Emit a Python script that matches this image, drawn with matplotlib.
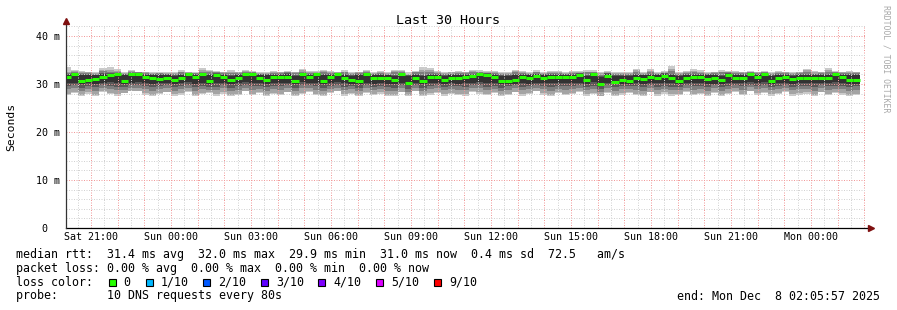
import numpy as np
import matplotlib
matplotlib.use("Agg")
import matplotlib.pyplot as plt
from matplotlib.patches import Rectangle

# ---------------- data ----------------
title = "Last 30 Hours"
ylabel = "Seconds"
watermark = "RRDTOOL / TOBI OETIKER"

# hours counted from Sat 00:00
x_tick_hours = [21, 24, 27, 30, 33, 36, 39, 42, 45, 48]
x_tick_labels = ["Sat 21:00", "Sun 00:00", "Sun 03:00", "Sun 06:00", "Sun 09:00",
                 "Sun 12:00", "Sun 15:00", "Sun 18:00", "Sun 21:00", "Mon 00:00"]
y_ticks = [0, 10, 20, 30, 40]
y_tick_labels = ["0  ", "10 m", "20 m", "30 m", "40 m"]

axis_start_hour = 20.0625          # left edge of the graph
axis_span_hours = 30.0
data_start_hour = 19 + 59 / 60     # first consolidated step
step_hours = 16 / 60               # 960 s consolidation step

# median rtt (ms) per step
median = [
    31.5, 32.0, 30.6, 30.9, 31.1, 31.5, 31.9, 32.0, 30.6, 32.0, 32.0, 31.5, 31.2, 31.1,
    31.3, 30.9, 31.3, 32.0, 31.5, 32.0, 30.6, 31.8, 31.5, 30.9, 31.3, 32.0, 32.0, 31.3,
    30.9, 31.5, 31.4, 31.5, 30.6, 32.0, 31.5, 32.0, 30.7, 31.5, 32.0, 31.3, 30.9, 30.6,
    32.0, 31.2, 31.3, 31.2, 30.9, 32.0, 30.2, 31.3, 30.6, 31.5, 31.5, 30.9, 31.2, 31.2,
    31.4, 31.6, 32.0, 31.8, 31.4, 30.6, 30.7, 30.9, 31.4, 31.2, 31.7, 31.2, 31.5, 31.5,
    31.5, 31.4, 31.8, 30.9, 32.0, 29.9, 31.7, 30.5, 30.9, 30.7, 31.3, 31.0, 31.5, 31.3,
    31.7, 31.3, 30.6, 31.3, 31.5, 31.5, 31.1, 31.2, 30.9, 31.8, 31.3, 31.3, 32.0, 31.4,
    32.0, 30.6, 31.3, 31.5, 31.0, 31.3, 31.3, 31.3, 31.3, 31.3, 32.0, 31.5, 30.9, 30.9,
]

# sorted ping values (ms) per step, smoke bands
ping1 = [
    27.7, 28.2, 27.6, 28.0, 27.5, 28.4, 27.9, 27.6, 28.1, 28.6, 28.5, 27.8, 27.6, 28.0,
    28.3, 27.6, 27.8, 28.4, 27.5, 27.9, 28.2, 27.6, 28.0, 27.6, 27.8, 28.5, 27.7, 28.1,
    27.6, 28.0, 27.7, 28.3, 27.5, 27.9, 28.4, 27.7, 27.6, 28.1, 28.5, 27.6, 27.9, 27.5,
    28.2, 27.7, 28.0, 27.6, 27.5, 28.3, 27.6, 28.6, 27.5, 27.8, 28.2, 27.6, 28.0, 27.7,
    27.6, 28.4, 28.0, 27.7, 28.1, 27.5, 27.7, 28.3, 27.6, 28.0, 28.5, 27.8, 27.6, 28.1,
    27.7, 28.0, 28.4, 27.6, 27.9, 27.5, 28.2, 27.6, 27.8, 28.1, 27.7, 27.5, 28.3, 27.6,
    28.0, 27.6, 27.8, 28.4, 27.7, 28.0, 27.6, 28.2, 27.5, 27.9, 28.3, 27.7, 28.5, 27.8,
    28.2, 27.6, 27.9, 28.4, 27.6, 27.8, 28.0, 27.6, 28.3, 27.7, 28.1, 27.8, 27.6, 27.7,
]
ping2 = [
    28.0, 28.4, 27.8, 28.3, 27.7, 28.5, 28.2, 27.9, 28.2, 28.6, 28.5, 28.1, 27.8, 28.2,
    28.4, 27.9, 28.1, 28.5, 27.8, 28.2, 28.3, 27.9, 28.3, 27.8, 28.0, 28.5, 28.0, 28.3,
    27.8, 28.2, 28.0, 28.4, 27.7, 28.2, 28.5, 28.0, 27.8, 28.3, 28.5, 27.9, 28.2, 27.7,
    28.4, 27.9, 28.3, 27.8, 27.7, 28.4, 27.7, 28.6, 27.7, 28.1, 28.4, 27.9, 28.2, 28.0,
    27.9, 28.5, 28.3, 27.9, 28.3, 27.7, 28.0, 28.4, 27.9, 28.2, 28.5, 28.1, 27.8, 28.3,
    28.0, 28.2, 28.5, 27.9, 28.2, 27.6, 28.4, 27.8, 28.1, 28.3, 28.0, 27.8, 28.4, 27.9,
    28.3, 27.9, 28.0, 28.5, 28.0, 28.2, 27.8, 28.4, 27.8, 28.2, 28.5, 28.0, 28.6, 28.1,
    28.4, 27.9, 28.2, 28.5, 27.9, 28.1, 28.3, 27.8, 28.4, 28.0, 28.3, 28.1, 27.8, 28.0,
]
ping3 = [
    28.9, 29.1, 28.5, 29.0, 28.6, 29.2, 29.0, 28.7, 28.8, 29.2, 29.1, 28.9, 28.6, 28.9,
    29.1, 28.6, 28.9, 29.2, 28.6, 29.0, 28.8, 28.7, 29.1, 28.5, 28.8, 29.2, 28.8, 29.0,
    28.6, 29.0, 28.8, 29.1, 28.5, 29.1, 29.2, 28.8, 28.6, 29.0, 29.2, 28.7, 28.9, 28.5,
    29.1, 28.7, 29.0, 28.6, 28.5, 29.1, 28.4, 29.2, 28.5, 28.9, 29.1, 28.7, 29.0, 28.8,
    28.7, 29.2, 29.1, 28.7, 29.0, 28.5, 28.8, 29.1, 28.7, 29.0, 29.2, 28.9, 28.6, 29.0,
    28.8, 29.0, 29.2, 28.7, 29.0, 28.3, 29.1, 28.6, 28.9, 29.0, 28.8, 28.6, 29.1, 28.7,
    29.0, 28.7, 28.8, 29.2, 28.8, 29.0, 28.6, 29.1, 28.6, 29.0, 29.2, 28.8, 29.3, 28.9,
    29.1, 28.7, 29.0, 29.2, 28.7, 28.9, 29.0, 28.6, 29.1, 28.8, 29.0, 28.9, 28.6, 28.8,
]
ping4 = [
    29.5, 29.7, 29.2, 29.6, 29.3, 29.8, 29.6, 29.4, 29.4, 29.8, 29.7, 29.5, 29.3, 29.5,
    29.7, 29.3, 29.5, 29.8, 29.3, 29.6, 29.3, 29.4, 29.7, 29.2, 29.5, 29.8, 29.5, 29.6,
    29.3, 29.6, 29.5, 29.7, 29.2, 29.7, 29.8, 29.5, 29.2, 29.6, 29.8, 29.4, 29.5, 29.2,
    29.7, 29.4, 29.6, 29.3, 29.2, 29.7, 29.0, 29.8, 29.2, 29.5, 29.7, 29.4, 29.6, 29.5,
    29.4, 29.8, 29.7, 29.4, 29.6, 29.2, 29.5, 29.7, 29.4, 29.6, 29.8, 29.5, 29.3, 29.6,
    29.5, 29.6, 29.8, 29.4, 29.6, 28.9, 29.7, 29.3, 29.5, 29.6, 29.5, 29.3, 29.7, 29.4,
    29.6, 29.4, 29.4, 29.8, 29.5, 29.6, 29.3, 29.7, 29.3, 29.6, 29.8, 29.5, 29.8, 29.5,
    29.7, 29.4, 29.6, 29.8, 29.4, 29.5, 29.6, 29.3, 29.7, 29.5, 29.6, 29.6, 29.3, 29.5,
]
ping5 = [
    30.2, 30.3, 30.1, 30.2, 30.1, 30.3, 30.4, 30.2, 30.0, 30.3, 30.4, 30.2, 30.1, 30.2,
    30.2, 30.1, 30.2, 30.4, 30.1, 30.3, 30.0, 30.3, 30.2, 30.1, 30.2, 30.4, 30.3, 30.2,
    30.1, 30.2, 30.2, 30.3, 30.0, 30.4, 30.2, 30.3, 30.1, 30.2, 30.4, 30.2, 30.1, 30.0,
    30.3, 30.1, 30.2, 30.1, 30.1, 30.3, 29.7, 30.2, 30.0, 30.2, 30.3, 30.1, 30.2, 30.1,
    30.2, 30.3, 30.4, 30.3, 30.2, 30.0, 30.1, 30.1, 30.2, 30.1, 30.3, 30.2, 30.2, 30.3,
    30.2, 30.2, 30.3, 30.1, 30.4, 29.5, 30.3, 29.9, 30.1, 30.0, 30.2, 30.1, 30.2, 30.2,
    30.3, 30.2, 30.0, 30.2, 30.3, 30.2, 30.1, 30.1, 30.1, 30.3, 30.2, 30.2, 30.4, 30.2,
    30.4, 30.0, 30.2, 30.3, 30.1, 30.2, 30.2, 30.2, 30.2, 30.2, 30.4, 30.3, 30.1, 30.1,
]
ping6 = [
    31.9, 32.1, 31.8, 31.9, 31.8, 32.0, 32.1, 32.1, 31.8, 32.1, 32.1, 31.9, 31.8, 31.9,
    31.8, 31.7, 31.9, 32.1, 31.9, 32.1, 31.8, 32.0, 31.9, 31.7, 31.9, 32.1, 32.1, 31.9,
    31.8, 31.9, 31.9, 32.0, 31.7, 32.1, 31.9, 32.1, 31.8, 31.9, 32.1, 31.8, 31.7, 31.8,
    32.1, 31.8, 31.9, 31.8, 31.7, 32.1, 31.6, 31.9, 31.7, 31.9, 31.9, 31.7, 31.8, 31.8,
    31.9, 31.9, 32.1, 32.0, 31.9, 31.7, 31.7, 31.8, 31.9, 31.8, 32.0, 31.8, 31.9, 31.9,
    31.9, 31.8, 32.0, 31.7, 32.1, 31.5, 32.0, 31.7, 31.7, 31.7, 31.9, 31.8, 31.9, 31.8,
    32.0, 31.8, 31.7, 31.9, 31.9, 31.9, 31.8, 31.8, 31.7, 32.0, 31.9, 31.9, 32.1, 31.9,
    32.1, 31.7, 31.8, 31.9, 31.7, 31.8, 31.9, 31.8, 31.9, 31.8, 32.1, 31.9, 31.8, 31.8,
]
ping7 = [
    32.0, 32.3, 32.0, 32.1, 31.9, 32.2, 32.2, 32.3, 32.0, 32.2, 32.3, 32.0, 32.0, 32.0,
    32.0, 31.9, 32.0, 32.2, 32.1, 32.3, 32.0, 32.2, 32.0, 31.9, 32.1, 32.2, 32.3, 32.0,
    32.0, 32.1, 32.0, 32.2, 31.9, 32.3, 32.0, 32.2, 32.0, 32.1, 32.2, 32.0, 31.9, 32.0,
    32.3, 32.0, 32.1, 31.9, 31.9, 32.2, 31.8, 32.1, 31.9, 32.1, 32.0, 31.9, 32.0, 32.0,
    32.1, 32.0, 32.2, 32.2, 32.0, 31.9, 31.9, 32.0, 32.1, 32.0, 32.1, 32.0, 32.1, 32.0,
    32.0, 32.0, 32.2, 31.9, 32.2, 31.7, 32.2, 31.9, 31.9, 31.9, 32.1, 31.9, 32.1, 32.0,
    32.2, 32.0, 31.9, 32.1, 32.0, 32.1, 32.0, 32.0, 31.9, 32.2, 32.0, 32.1, 32.2, 32.1,
    32.3, 31.9, 32.0, 32.1, 31.9, 32.0, 32.1, 32.0, 32.0, 32.0, 32.3, 32.1, 32.0, 32.0,
]
ping8 = [
    32.2, 32.6, 32.3, 32.2, 32.0, 32.7, 32.5, 32.4, 32.1, 32.6, 32.4, 32.3, 32.1, 32.2,
    32.1, 32.0, 32.4, 32.3, 32.2, 32.6, 32.5, 32.4, 32.2, 32.3, 32.2, 32.5, 32.4, 32.1,
    32.1, 32.3, 32.2, 32.5, 32.2, 32.6, 32.3, 32.3, 32.4, 32.3, 32.3, 32.4, 32.0, 32.2,
    32.5, 32.1, 32.3, 32.1, 32.4, 32.5, 31.9, 32.4, 32.6, 32.5, 32.2, 32.1, 32.1, 32.3,
    32.2, 32.5, 32.4, 32.3, 32.2, 32.0, 32.1, 32.5, 32.3, 32.1, 32.4, 32.1, 32.2, 32.3,
    32.1, 32.2, 32.3, 32.4, 32.4, 31.9, 32.3, 32.0, 32.1, 32.0, 32.6, 32.1, 32.5, 32.1,
    32.3, 32.7, 32.1, 32.2, 32.5, 32.3, 32.1, 32.2, 32.4, 32.4, 32.2, 32.2, 32.4, 32.2,
    32.4, 32.1, 32.2, 32.2, 32.1, 32.2, 32.6, 32.1, 32.2, 32.6, 32.4, 32.2, 32.3, 32.2,
]
ping9 = [
    32.6, 32.8, 32.5, 32.4, 32.2, 33.0, 33.0, 32.8, 32.2, 32.7, 32.4, 32.4, 32.3, 32.3,
    32.3, 32.2, 32.6, 32.4, 32.3, 32.9, 32.8, 32.6, 32.4, 32.6, 32.4, 32.7, 32.5, 32.3,
    32.3, 32.5, 32.4, 32.6, 32.4, 32.9, 32.5, 32.5, 32.7, 32.5, 32.4, 32.6, 32.2, 32.4,
    32.7, 32.3, 32.5, 32.3, 32.7, 32.7, 32.1, 32.6, 33.0, 32.9, 32.4, 32.3, 32.4, 32.5,
    32.4, 32.7, 32.6, 32.5, 32.4, 32.2, 32.3, 32.7, 32.5, 32.3, 32.6, 32.3, 32.4, 32.5,
    32.3, 32.4, 32.6, 32.6, 32.6, 32.2, 32.5, 32.3, 32.3, 32.2, 32.9, 32.3, 32.8, 32.3,
    32.5, 33.1, 32.3, 32.4, 32.8, 32.6, 32.3, 32.4, 32.6, 32.6, 32.5, 32.4, 32.6, 32.4,
    32.6, 32.3, 32.4, 32.4, 32.3, 32.4, 32.9, 32.4, 32.4, 33.0, 32.6, 32.4, 32.5, 32.4,
]
ping10 = [
    33.6, 32.9, 32.8, 32.6, 32.5, 33.4, 33.5, 33.1, 32.4, 32.9, 32.5, 32.6, 32.5, 32.5,
    32.5, 32.4, 32.9, 32.5, 32.5, 33.3, 33.0, 32.8, 32.6, 33.0, 32.6, 32.9, 32.7, 32.5,
    32.5, 32.7, 32.6, 32.8, 32.6, 33.2, 32.8, 32.7, 33.0, 32.7, 32.6, 32.9, 32.5, 32.6,
    32.9, 32.5, 32.7, 32.6, 33.0, 32.9, 32.4, 32.8, 33.5, 33.3, 32.7, 32.5, 32.6, 32.7,
    32.6, 33.0, 32.9, 32.8, 32.7, 32.5, 32.6, 33.0, 32.7, 32.6, 32.9, 32.6, 32.7, 32.8,
    32.6, 32.7, 32.8, 32.9, 32.9, 32.5, 32.8, 32.6, 32.6, 32.5, 33.2, 32.6, 33.2, 32.5,
    32.8, 33.7, 32.6, 32.7, 33.2, 32.9, 32.6, 32.6, 32.9, 32.7, 32.8, 32.6, 32.8, 32.6,
    32.8, 32.6, 32.7, 32.6, 32.5, 32.6, 33.2, 32.7, 32.6, 33.3, 32.8, 32.6, 32.7, 32.6,
]

smoke_colors = ["#cacaca", "#a4a4a4", "#7e7e7e", "#585858", "#323232"]
median_color = "#26ff00"

loss_labels = ["0", "1/10", "2/10", "3/10", "4/10", "5/10", "9/10"]
loss_colors = ["#26ff00", "#00b8ff", "#0059ff", "#5e00ff", "#7e00ff", "#dd00ff", "#ff0000"]

line_rtt = "median rtt:  31.4 ms avg  32.0 ms max  29.9 ms min  31.0 ms now  0.4 ms sd  72.5   am/s"
line_loss = "packet loss: 0.00 % avg  0.00 % max  0.00 % min  0.00 % now"
line_color = "loss color:"
line_probe = "probe:       10 DNS requests every 80s"
line_end = "end: Mon Dec  8 02:05:57 2025"

# ---------------- figure ----------------
W, H = 897, 310
MONO = "DejaVu Sans Mono"
fig = plt.figure(figsize=(W / 100, H / 100), dpi=100)
fig.patch.set_facecolor("white")

def fx(px):
    return px / W

def fy(py):
    return 1 - py / H

ax = fig.add_axes([fx(66), fy(228), fx(800), (228 - 26) / H])
ax.set_facecolor("white")

n = len(median)
edges = data_start_hour + np.arange(n + 1) * step_hours

lows = [ping1, ping2, ping3, ping4, ping5]
highs = [ping10, ping9, ping8, ping7, ping6]
for lo, hi, col in zip(lows, highs, smoke_colors):
    ax.stairs(np.array(hi), edges, baseline=np.array(lo), fill=True,
              color=col, linewidth=0, zorder=1)

ax.hlines(median, edges[:-1], edges[1:], colors=median_color, linewidth=2.2, zorder=3)

x0 = axis_start_hour
x1 = axis_start_hour + axis_span_hours
ax.set_xlim(x0, x1)
ax.set_ylim(0, 202 / 4.8)

# major grid every hour (red), minor every half hour (grey); labels every 3 h
major_hours = np.arange(21, 51, 1)
ax.set_xticks(major_hours)
ax.set_xticklabels([x_tick_labels[x_tick_hours.index(h)] if h in x_tick_hours else ""
                    for h in major_hours], family=MONO, fontsize=7.2)
ax.set_xticks(np.arange(20.5, 50.1, 1), minor=True)
ax.set_yticks(y_ticks)
ax.set_yticklabels(y_tick_labels, family=MONO, fontsize=7.2)
ax.set_yticks(np.arange(0, 43, 2), minor=True)
ax.tick_params(which="both", length=0)
ax.tick_params(axis="x", pad=3.2)
ax.tick_params(axis="y", pad=4.3)

ax.set_axisbelow(False)
ax.grid(which="minor", color="#d2d2d2", linestyle=(0, (1, 1.5)), linewidth=0.72)
ax.grid(which="major", color="#f29a9a", linestyle=(0, (1, 1.5)), linewidth=0.72)

for s in ax.spines.values():
    s.set_visible(False)
ax.plot([0, 1.005], [0, 0], transform=ax.transAxes, color="black",
        linewidth=0.9, clip_on=False, zorder=5)
ax.plot([0, 0], [0, 1.02], transform=ax.transAxes, color="#333333",
        linewidth=0.9, clip_on=False, zorder=5)
ax.plot([1.006], [0], marker=">", markersize=4, color="#7f1010",
        transform=ax.transAxes, clip_on=False, zorder=6)
ax.plot([0], [1.025], marker="^", markersize=4, color="#7f1010",
        transform=ax.transAxes, clip_on=False, zorder=6)

# texts
fig.text(fx(448), fy(24.5), title, family=MONO, fontsize=9.6, ha="center", va="baseline")
fig.text(fx(11), fy(127), ylabel, family=MONO, fontsize=8.2, rotation=90,
         ha="center", va="center")
fig.text(fx(886), fy(59), watermark, family=MONO, fontsize=5.9, rotation=270,
         ha="center", va="center", color="#a8a8a8")

LEG = 8.4
fig.text(fx(16), fy(258.3), line_rtt, family=MONO, fontsize=LEG, va="baseline")
fig.text(fx(16), fy(271.8), line_loss, family=MONO, fontsize=LEG, va="baseline")
fig.text(fx(16), fy(285.7), line_color, family=MONO, fontsize=LEG, va="baseline")
fig.text(fx(16), fy(299.5), line_probe, family=MONO, fontsize=LEG, va="baseline")
fig.text(fx(880), fy(299.5), line_end, family=MONO, fontsize=LEG, va="baseline", ha="right")

box_x = [108.7, 145.7, 203, 261, 318, 375.7, 434]
lab_x = [123, 160.7, 218, 276, 333, 391, 449]
for bx, lx, lab, col in zip(box_x, lab_x, loss_labels, loss_colors):
    fig.add_artist(Rectangle((fx(bx), fy(286)), 7 / W, 7 / H, facecolor=col,
                             edgecolor="black", linewidth=0.8, transform=fig.transFigure))
    fig.text(fx(lx), fy(285.7), lab, family=MONO, fontsize=LEG, va="baseline")

fig.savefig("out.png", dpi=100, facecolor="white")
